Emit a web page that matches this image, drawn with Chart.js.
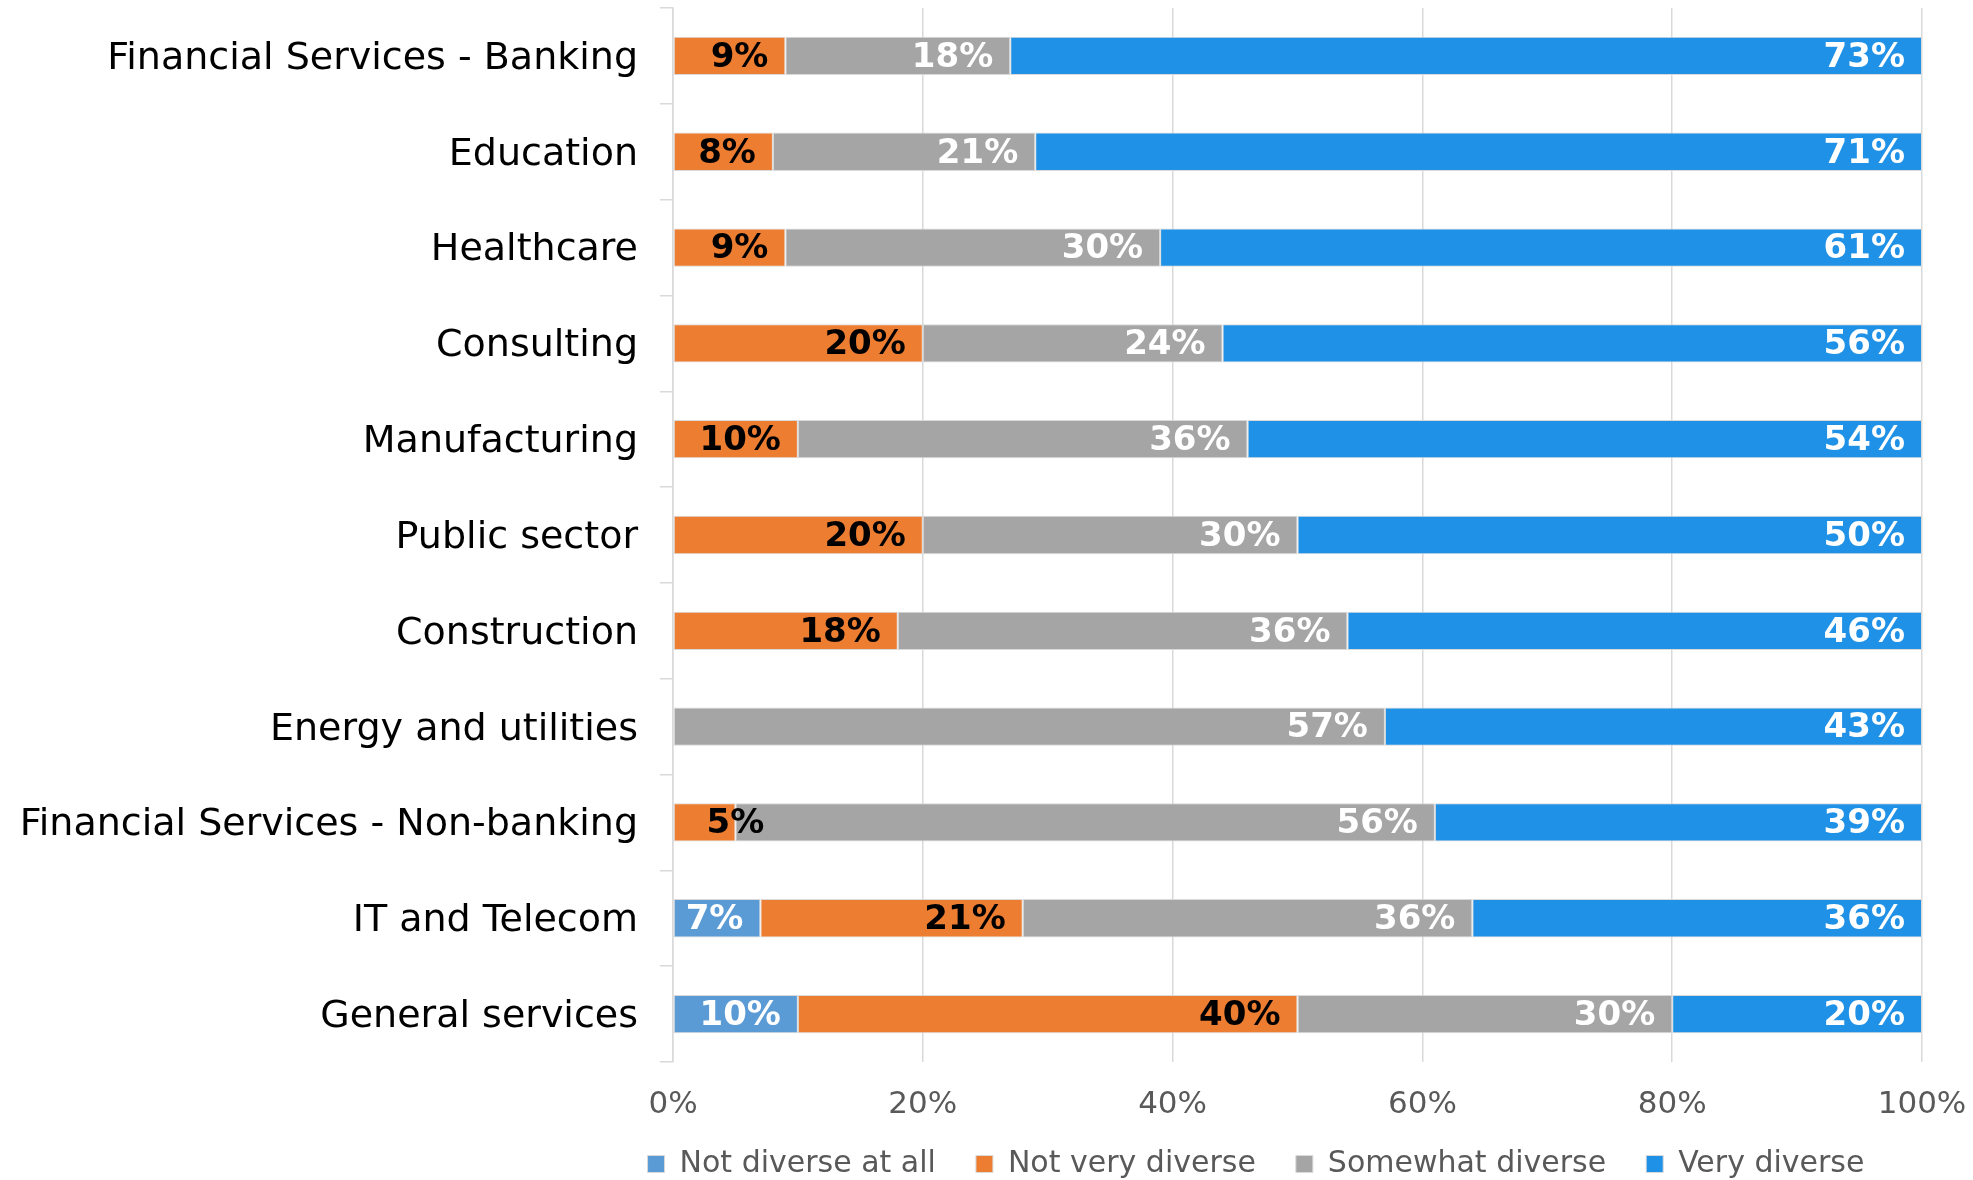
<!DOCTYPE html>
<html>
<head>
<meta charset="utf-8">
<title>Diversity by industry</title>
<script src="https://cdn.jsdelivr.net/npm/chart.js@4/dist/chart.umd.min.js"></script>
<style>
  html, body { margin: 0; padding: 0; background: #fff; }
  #wrap { width: 1973px; height: 1180px; }
</style>
</head>
<body>
<div id="wrap"><canvas id="grafico"></canvas></div>
<script>
const industries = [
  'Financial Services - Banking',
  'Education',
  'Healthcare',
  'Consulting',
  'Manufacturing',
  'Public sector',
  'Construction',
  'Energy and utilities',
  'Financial Services - Non-banking',
  'IT and Telecom',
  'General services'
];

const notDiverseAtAll  = [0, 0, 0, 0, 0, 0, 0, 0, 0, 7, 10];
const notVeryDiverse   = [9, 8, 9, 20, 10, 20, 18, 0, 5, 21, 40];
const somewhatDiverse  = [18, 21, 30, 24, 36, 30, 36, 57, 56, 36, 30];
const veryDiverse      = [73, 71, 61, 56, 54, 50, 46, 43, 39, 36, 20];

const xTicks = [0, 20, 40, 60, 80, 100];

const seriesNames = ['Not diverse at all', 'Not very diverse', 'Somewhat diverse', 'Very diverse'];
const seriesColors = ['#5B9BD5', '#ED7D31', '#A5A5A5', '#1F91E6'];
const labelColors = ['#FFFFFF', '#000000', '#FFFFFF', '#FFFFFF'];

const font = "'DejaVu Sans', Verdana, sans-serif";

// escribe el porcentaje dentro de cada tramo, pegado a su borde derecho;
// si no cabe en el tramo se centra sobre el final del tramo
const etiquetas = {
  id: 'etiquetas',
  afterDatasetsDraw(chart) {
    const ctx = chart.ctx;
    ctx.save();
    ctx.font = `bold 34px ${font}`;
    ctx.textAlign = 'right';
    ctx.textBaseline = 'middle';
    chart.data.datasets.forEach((ds, i) => {
      const meta = chart.getDatasetMeta(i);
      meta.data.forEach((bar, j) => {
        const v = ds.data[j];
        if (!v) return;
        const txt = v + '%';
        const w = ctx.measureText(txt).width;
        const ancho = Math.abs(bar.x - bar.base);
        const x = (w + 14 > ancho) ? bar.x + w / 2 : bar.x - 17;
        ctx.fillStyle = labelColors[i];
        ctx.fillText(txt, x, bar.y + 2);
      });
    });
    ctx.restore();
  }
};

// la leyenda va centrada bajo las barras, no bajo todo el lienzo
const leyenda = {
  id: 'leyenda',
  afterLayout(chart) {
    const lg = chart.legend;
    if (!lg) return;
    lg.left = 590;
    lg.right = chart.chartArea.right;
    lg.width = lg.right - lg.left;
    lg.top -= 21;
    lg.height = lg.bottom - lg.top;
  }
};

const datos = [notDiverseAtAll, notVeryDiverse, somewhatDiverse, veryDiverse];

new Chart(document.getElementById('grafico').getContext('2d'), {
  type: 'bar',
  data: {
    labels: industries,
    datasets: datos.map((d, i) => ({
      label: seriesNames[i],
      data: d,
      backgroundColor: seriesColors[i],
      borderColor: '#D9D9D9',
      borderWidth: 1,
      borderSkipped: false,
      barPercentage: 0.4,
      categoryPercentage: 1
    }))
  },
  options: {
    indexAxis: 'y',
    responsive: true,
    maintainAspectRatio: false,
    animation: false,
    layout: { padding: { left: 0, right: 51, top: 8, bottom: 0 } },
    scales: {
      x: {
        stacked: true,
        min: 0,
        max: 100,
        afterBuildTicks: (scale) => { scale.ticks = xTicks.map(v => ({ value: v })); },
        afterFit: (scale) => {
          scale.height = 68;
          scale.paddingLeft = 0;
          scale.paddingRight = 0;
        },
        ticks: {
          callback: (v) => v + '%',
          color: '#595959',
          font: { family: font, size: 31 },
          padding: 24
        },
        grid: { color: '#D9D9D9', lineWidth: 1.5, drawTicks: false },
        border: { display: false }
      },
      y: {
        stacked: true,
        afterFit: (scale) => {
          scale.width = 673;
          scale.paddingTop = 0;
          scale.paddingBottom = 0;
        },
        ticks: {
          color: '#000000',
          font: { family: font, size: 38 },
          padding: 22,
          labelOffset: 3
        },
        grid: {
          offset: true,
          drawOnChartArea: false,
          color: '#D9D9D9',
          lineWidth: 1.5,
          tickLength: 13
        },
        border: { display: true, color: '#D9D9D9', width: 1.5 }
      }
    },
    plugins: {
      legend: {
        position: 'bottom',
        maxHeight: 50,
        labels: {
          color: '#595959',
          font: { family: font, size: 30 },
          boxWidth: 17,
          boxHeight: 17,
          padding: 40
        }
      },
      tooltip: { enabled: false }
    }
  },
  plugins: [etiquetas, leyenda]
});
</script>
</body>
</html>
